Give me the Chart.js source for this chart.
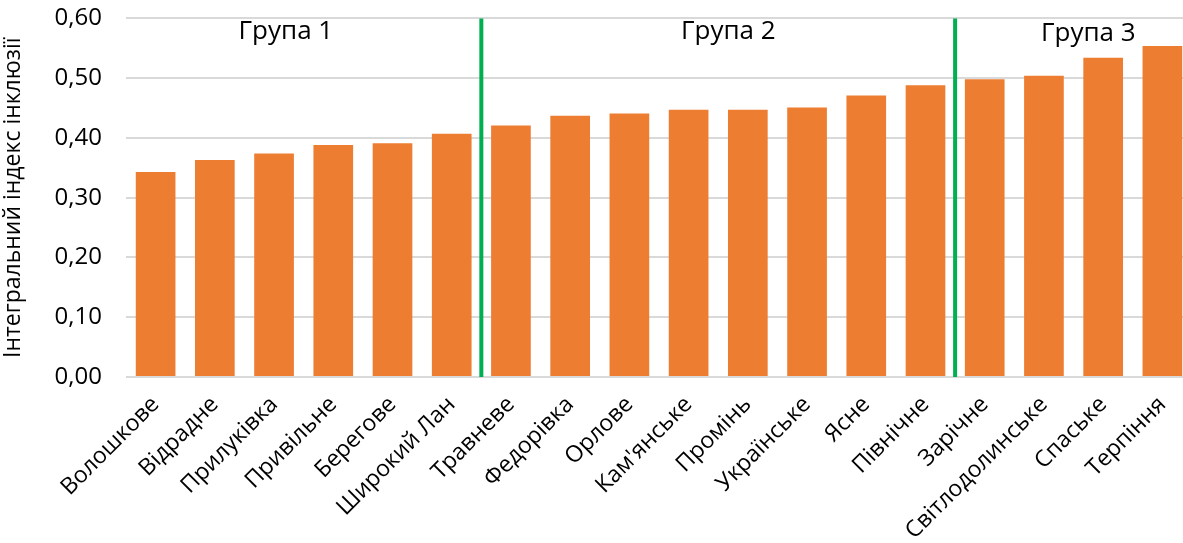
<!DOCTYPE html>
<html>
<head>
<meta charset="utf-8">
<script src="https://cdn.jsdelivr.net/npm/chart.js@4/dist/chart.umd.min.js"></script>
<style>
html,body{margin:0;padding:0;background:#fff;overflow:hidden;}
#wrap{width:1183px;height:543px;position:relative;overflow:hidden;}
canvas{position:absolute;left:0;top:-20px;}
</style>
</head>
<body>
<div id="wrap"><canvas id="c" width="1192" height="563"></canvas></div>
<script>
const categories = ["Волошкове","Відрадне","Прилуківка","Привільне","Берегове","Широкий Лан","Травневе","Федорівка","Орлове","Кам'янське","Промінь","Українське","Ясне","Північне","Зарічне","Світлодолинське","Спаське","Терпіння"];
const values = [0.343,0.363,0.374,0.388,0.391,0.407,0.421,0.437,0.441,0.447,0.447,0.451,0.471,0.488,0.498,0.504,0.534,0.554];
const groupNames = ["Група 1","Група 2","Група 3"];
const groupBreaks = [6, 14]; // index of first category of the next group
const yTicks = [0,0.1,0.2,0.3,0.4,0.5,0.6];
const yTitle = "Інтегральний індекс інклюзії";

const FONT = "'Open Sans', 'Liberation Sans', sans-serif";

const groupPlugin = {
  id: 'groups',
  afterDatasetsDraw(chart) {
    const ctx = chart.ctx, x = chart.scales.x, area = chart.chartArea;
    ctx.save();
    ctx.strokeStyle = '#00B050';
    ctx.lineWidth = 4;
    groupBreaks.forEach(b => {
      const px = (x.getPixelForValue(b - 1) + x.getPixelForValue(b)) / 2;
      ctx.beginPath();
      ctx.moveTo(px, area.top);
      ctx.lineTo(px, area.bottom);
      ctx.stroke();
    });
    const anchors = [2.2, 9.67, 15.75];
    const dy = [13, 13, 15];
    ctx.fillStyle = '#000';
    ctx.font = "26px " + FONT;
    ctx.textAlign = 'center';
    ctx.textBaseline = 'middle';
    groupNames.forEach((g, i) => {
      ctx.fillText(g, x.getPixelForValue(anchors[i]), area.top + dy[i]);
    });
    ctx.restore();
  }
};

new Chart(document.getElementById('c'), {
  type: 'bar',
  data: {
    labels: categories,
    datasets: [{
      data: values,
      backgroundColor: '#ED7D31',
      borderWidth: 0,
      categoryPercentage: 1,
      barPercentage: 0.67
    }]
  },
  options: {
    responsive: false,
    animation: false,
    layout: { padding: 0 },
    plugins: { legend: { display: false }, tooltip: { enabled: false } },
    scales: {
      x: {
        grid: { display: false },
        border: { display: false },
        ticks: {
          color: '#000',
          font: { family: FONT, size: 23 },
          maxRotation: 45, minRotation: 45,
          autoSkip: false,
          padding: 6
        },
        afterFit(s) { s.height = 166; }
      },
      y: {
        min: 0, max: 0.6,
        afterBuildTicks(s) { s.ticks = yTicks.map(v => ({ value: v })); },
        grid: { color: '#d9d9d9', lineWidth: 2, drawTicks: false },
        border: { display: false },
        ticks: {
          color: '#000',
          font: { family: FONT, size: 24 },
          padding: 24,
          callback: v => v.toFixed(2).replace('.', ',')
        },
        title: {
          display: true,
          text: yTitle,
          color: '#000',
          font: { family: FONT, size: 23 },
          padding: { top: 0, bottom: 2 }
        },
        afterFit(s) { s.width = 126; }
      }
    }
  },
  plugins: [groupPlugin]
});
</script>
</body>
</html>
